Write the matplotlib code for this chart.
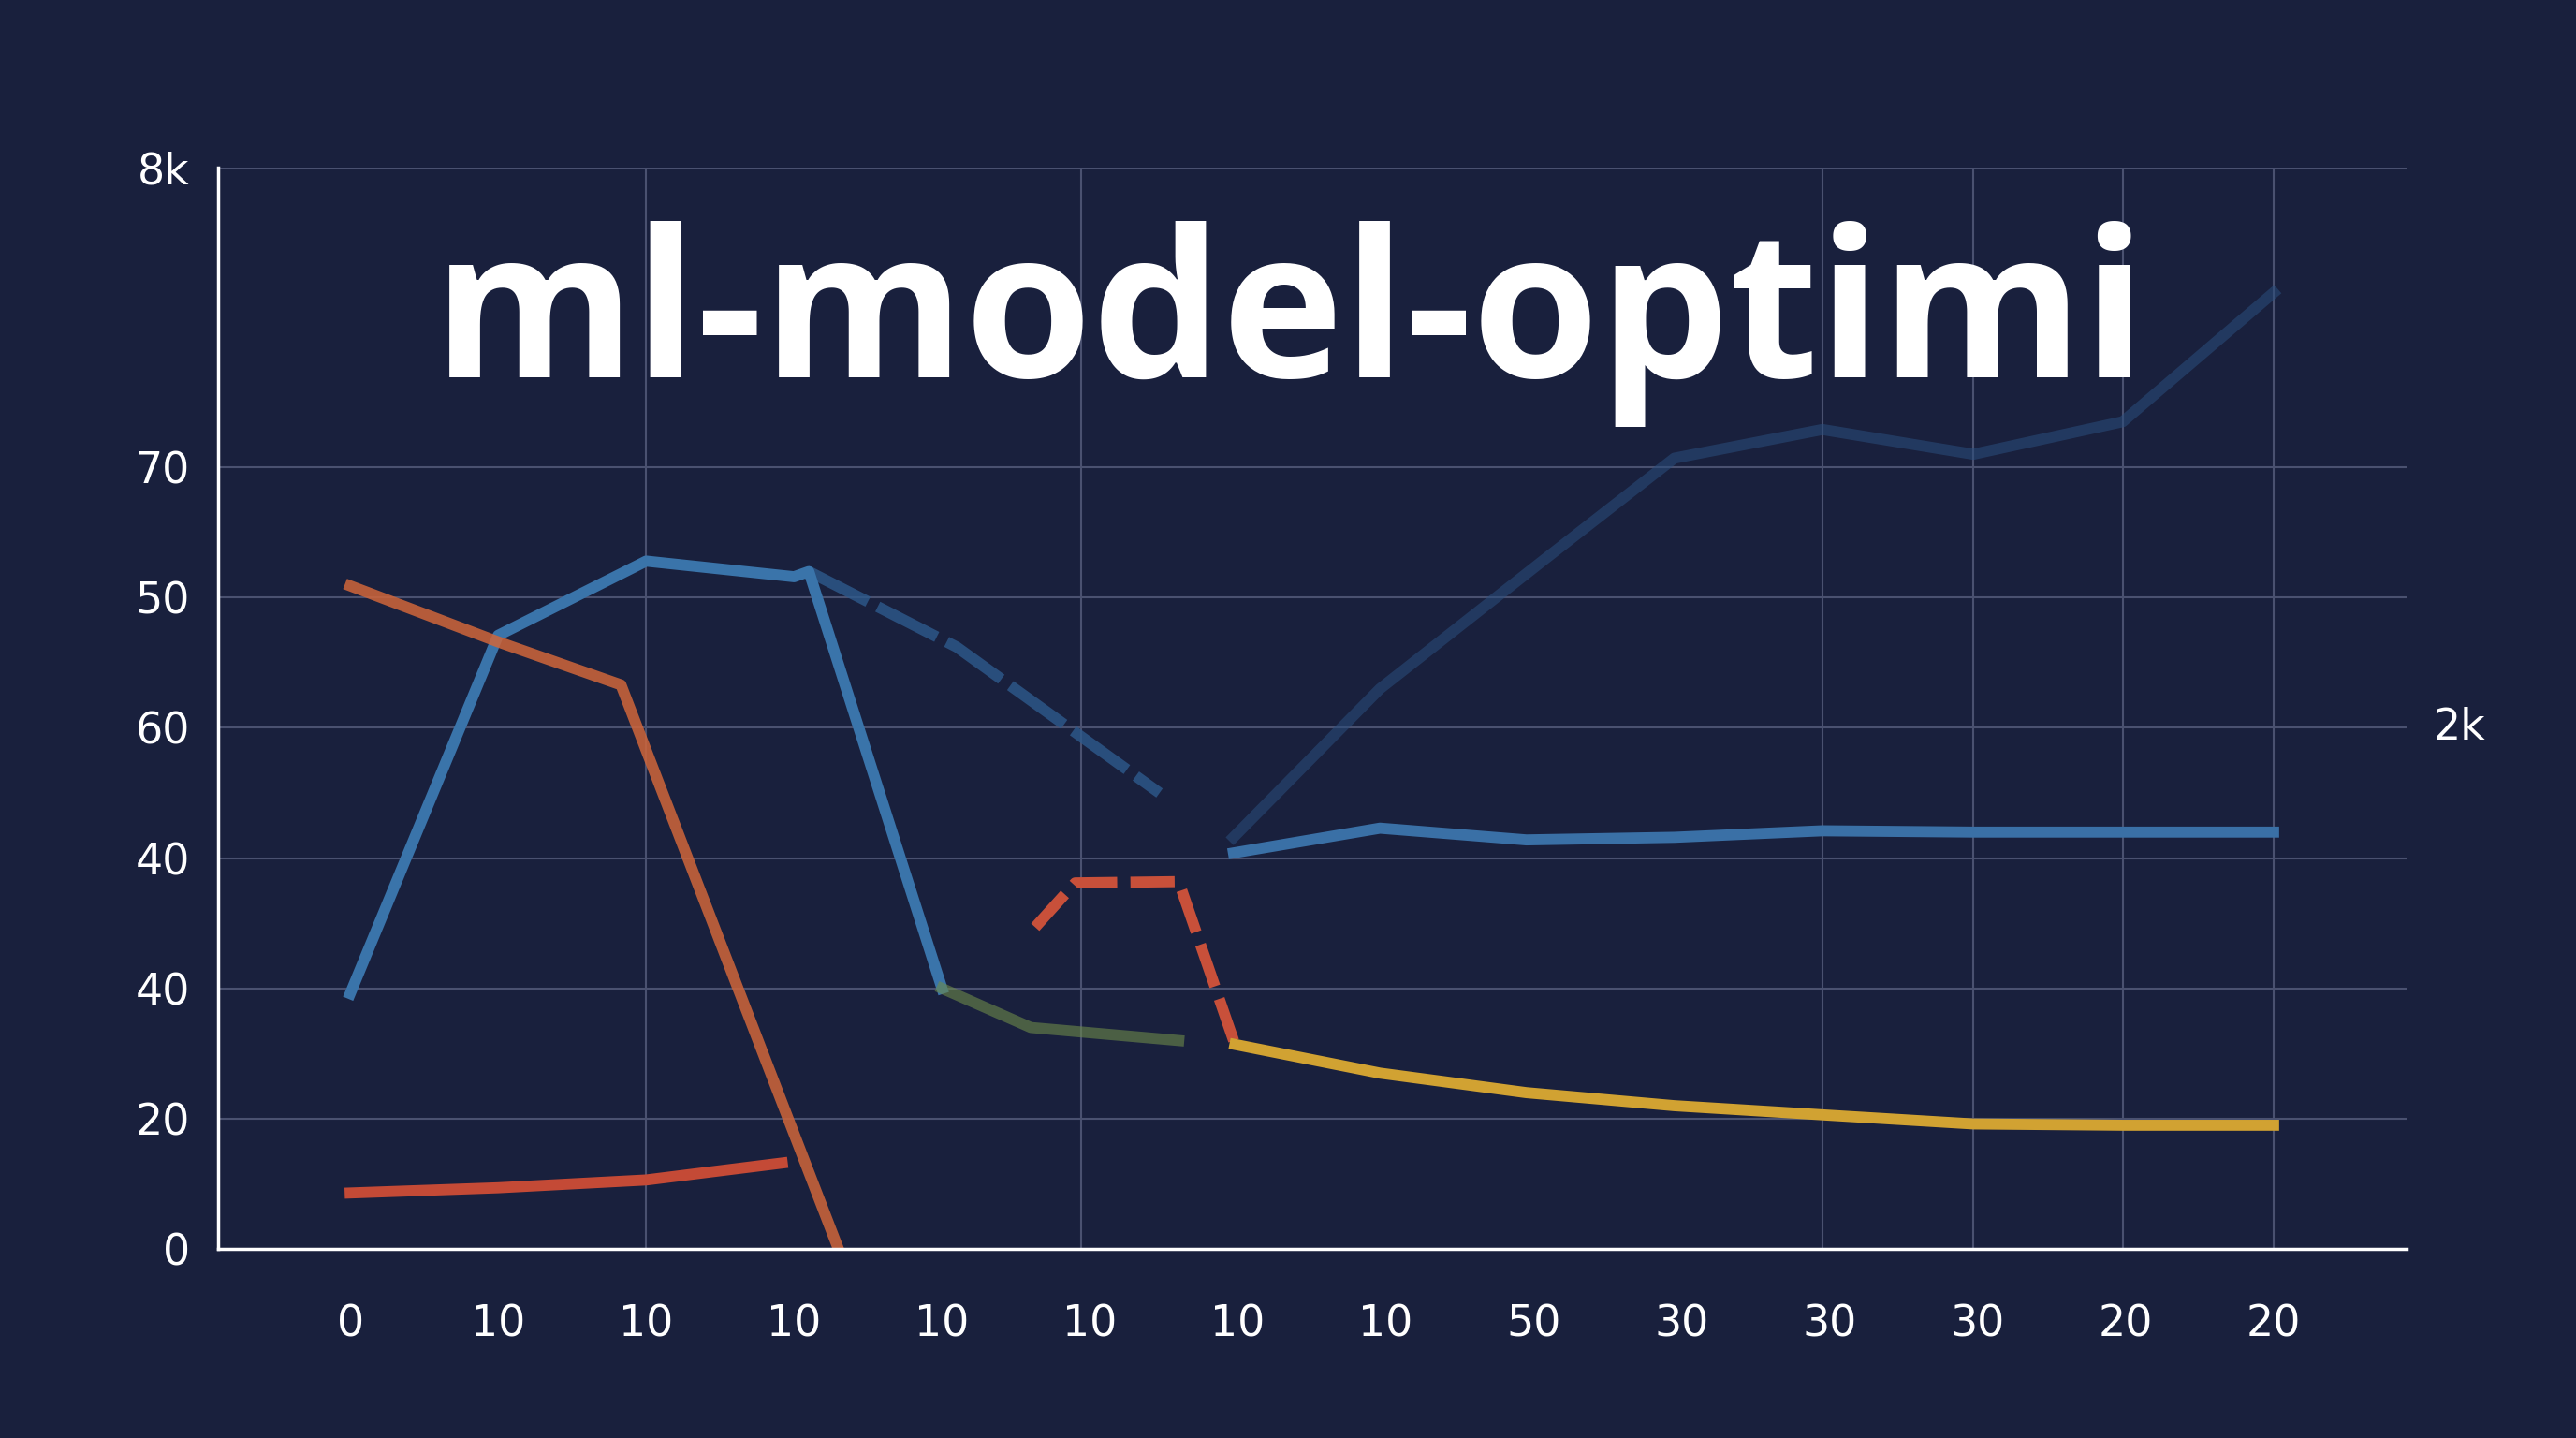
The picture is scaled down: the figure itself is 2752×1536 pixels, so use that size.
import numpy as np
import matplotlib.pyplot as plt

# y values are in gridline steps (each tick = 1 step), x in category index
x_labels = ["0", "10", "10", "10", "10", "10", "10", "10", "50", "30", "30", "30", "20", "20"]
y_tick_pos = [0, 1, 2, 3, 4, 5, 6, 8.3]
y_tick_labels = ["0", "20", "40", "40", "60", "50", "70", "8k"]

blue_x = [0, 1, 2, 3, 3.1, 4]
blue_y = [1.96, 4.71, 5.28, 5.16, 5.2, 2.0]
blue_fade_x = [3.1, 4.1, 5.47]
blue_fade_y = [5.2, 4.62, 3.5]
green_x = [4, 4.6, 5.6]
green_y = [2.0, 1.7, 1.6]
blue2_x = [5.97, 6.96, 7.95, 8.95, 9.95, 10.97, 11.98, 13]
blue2_y = [3.04, 3.23, 3.14, 3.16, 3.21, 3.2, 3.2, 3.2]
blue_up_x = [5.97, 6.96, 8.08, 8.95, 9.95, 10.97, 11.98, 13]
blue_up_y = [3.16, 4.3, 5.3, 6.07, 6.29, 6.1, 6.35, 7.34]
orange_x = [0, 1, 1.83, 3.3]
orange_y = [5.09, 4.66, 4.33, 0.0]
red_x = [0, 1, 2, 2.92]
red_y = [0.43, 0.47, 0.53, 0.66]
red_dash_x = [4.63, 4.9, 5.6, 5.98]
red_dash_y = [2.47, 2.81, 2.82, 1.57]
yellow_x = [5.98, 6.96, 7.95, 8.95, 9.95, 10.97, 11.98, 13]
yellow_y = [1.57, 1.35, 1.2, 1.1, 1.03, 0.96, 0.95, 0.95]

bg = "#19203d"
fig = plt.figure(figsize=(27.52, 15.36), dpi=100, facecolor=bg)
ax = fig.add_axes([133 / 1568, 1 - 760 / 875, (1465 - 133) / 1568, (760 - 102) / 875])
ax.set_facecolor(bg)
ax.set_xlim(-0.89, 13.9)
ax.set_ylim(0, 8.3)

grid_c = "#4a5170"
for y in y_tick_pos[1:]:
    ax.axhline(y, color=grid_c, lw=1.5, zorder=0)
for x in [2, 4.94, 9.95, 10.97, 11.98, 13]:
    ax.axvline(x, color=grid_c, lw=1.5, zorder=0)

for s in ["top", "right"]:
    ax.spines[s].set_visible(False)
for s in ["left", "bottom"]:
    ax.spines[s].set_color("white")
    ax.spines[s].set_linewidth(2.5)

ax.set_xticks(range(len(x_labels)))
ax.set_xticklabels(x_labels)
ax.set_yticks(y_tick_pos)
ax.set_yticklabels(y_tick_labels)
ax.tick_params(colors="white", labelsize=33, length=0, pad=22)
ax.tick_params(axis="x", pad=42)

lw = 8.5
ax.plot(blue_up_x, blue_up_y, color="#2a4f7e", lw=lw, alpha=0.55)
ax.plot(blue_fade_x, blue_fade_y, color="#2e5a8c", lw=lw, alpha=0.8, ls=(0, (6, 1)))
ax.plot(blue_x, blue_y, color="#3a74aa", lw=lw)
ax.plot(green_x, green_y, color="#6d8a4a", lw=lw, alpha=0.6)
ax.plot(blue2_x, blue2_y, color="#3a70a6", lw=lw)
ax.plot(orange_x, orange_y, color="#d0663a", lw=lw, alpha=0.85)
ax.plot(red_x, red_y, color="#c44a36", lw=lw)
ax.plot(red_dash_x, red_dash_y, color="#c8503a", lw=lw, ls=(0, (4, 1.2)))
ax.plot(yellow_x, yellow_y, color="#d1a232", lw=lw)

fig.text(1497 / 1568, 1 - 443 / 875, "2k", color="white", fontsize=33, ha="center", va="center")
fig.text(785 / 1568, 1 - 197 / 875, "ml-model-optimi", color="white", fontsize=158,
         fontweight="bold", family="Open Sans", ha="center", va="center")

fig.savefig("out.png", dpi=100, facecolor=bg)
